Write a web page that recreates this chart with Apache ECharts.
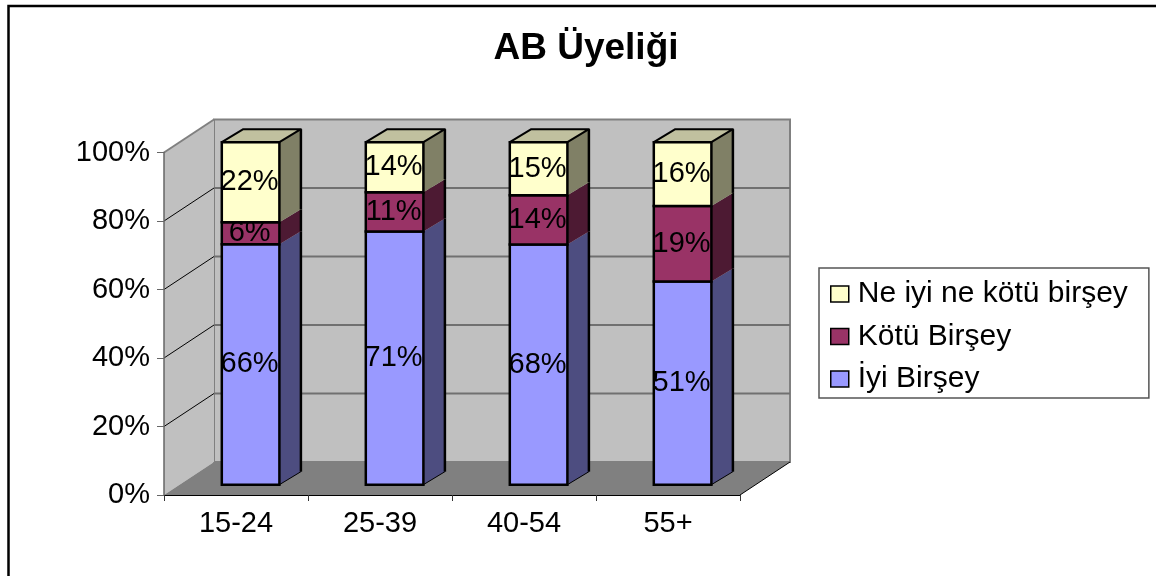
<!DOCTYPE html>
<html>
<head>
<meta charset="utf-8">
<script src="https://cdn.jsdelivr.net/npm/echarts@6/dist/echarts.min.js"></script>
<style>
html, body { margin: 0; background: #fff; }
#main { width: 1156px; height: 576px; }
</style>
</head>
<body>
<div id="main"></div>
<script>
var categories = ['15-24', '25-39', '40-54', '55+'];
var iyi = [66, 71, 68, 51];
var kotu = [6, 11, 14, 19];
var neIyi = [22, 14, 15, 16];
var yTicks = [0, 20, 40, 60, 80, 100];

var FONT = '"Liberation Sans", Arial, sans-serif';
// 3D look: wall depth, how far the bar stands off the front edge, bar depth
var WALL = [50, -33];
var INSET = [14.6, -10.3];
var DEPTH = [21.5, -13];

var totals = categories.map(function (c, i) {
  return iyi[i] + kotu[i] + neIyi[i];
});

// the chart is 100% stacked, labels show the raw value
function stackData(values, below) {
  return values.map(function (v, i) {
    var base = 0;
    below.forEach(function (b) { base += b[i]; });
    return [i, base / totals[i] * 100, (base + v) / totals[i] * 100, v];
  });
}

function off(p, d) {
  return [p[0] + d[0], p[1] + d[1]];
}

// left and right end of the category axis at value v
function axisEnds(api, v) {
  var band = api.size([1, 0])[0];
  return [
    off(api.coord([0, v]), [-band / 2, 0]),
    off(api.coord([categories.length - 1, v]), [band / 2, 0])
  ];
}

function renderRoom(params, api) {
  var v = api.value(0);
  var ends = axisEnds(api, v);
  var p0 = ends[0];
  var p1 = ends[1];
  var back0 = off(p0, WALL);
  var back1 = off(p1, WALL);
  var children = [];
  if (v === 0) {
    var tops = axisEnds(api, 100);
    children.push({
      type: 'polygon',
      shape: { points: [off(tops[0], WALL), off(tops[1], WALL), back1, back0] },
      style: { fill: '#c0c0c0', stroke: '#808080', lineWidth: 2 }
    });
    children.push({
      type: 'polygon',
      shape: { points: [tops[0], off(tops[0], WALL), back0, p0] },
      style: { fill: '#c0c0c0' }
    });
    children.push({
      type: 'polygon',
      shape: { points: [p0, back0, back1, p1] },
      style: { fill: '#808080' }
    });
    children.push({
      type: 'line',
      shape: { x1: p1[0], y1: p1[1], x2: back1[0], y2: back1[1] },
      style: { stroke: '#000', lineWidth: 1 }
    });
  } else {
    if (v !== 100) {
      children.push({
        type: 'line',
        shape: { x1: back0[0], y1: back0[1], x2: back1[0], y2: back1[1] },
        style: { stroke: '#707070', lineWidth: 2 }
      });
    }
    children.push({
      type: 'line',
      shape: { x1: p0[0], y1: p0[1], x2: back0[0], y2: back0[1] },
      style: { stroke: v === 100 ? '#808080' : '#000', lineWidth: v === 100 ? 2 : 1 }
    });
  }
  return { type: 'group', children: children };
}

function makeBar(front, side, isTop) {
  return function (params, api) {
    var i = api.value(0);
    var w = api.size([1, 0])[0] / 2.5;
    var c0 = off(api.coord([i, api.value(1)]), INSET);
    var c1 = off(api.coord([i, api.value(2)]), INSET);
    var x0 = c0[0] - w / 2;
    var x1 = c0[0] + w / 2;
    var ends = [[x1, c0[1]], [x1, c1[1]]];
    var backEnds = [off(ends[0], DEPTH), off(ends[1], DEPTH)];
    var edge = { stroke: '#000', lineWidth: 2.5, lineJoin: 'round' };
    var children = [
      {
        type: 'polygon',
        shape: { points: [ends[0], ends[1], backEnds[1], backEnds[0]] },
        style: { fill: side }
      },
      {
        type: 'line',
        shape: { x1: backEnds[0][0], y1: backEnds[0][1], x2: backEnds[1][0], y2: backEnds[1][1] },
        style: edge
      }
    ];
    if (api.value(1) === 0) {
      children.push({
        type: 'line',
        shape: { x1: ends[0][0], y1: ends[0][1], x2: backEnds[0][0], y2: backEnds[0][1] },
        style: { stroke: '#000', lineWidth: 1 }
      });
    }
    if (isTop) {
      children.push({
        type: 'polygon',
        shape: { points: [[x0, c1[1]], off([x0, c1[1]], DEPTH), backEnds[1], ends[1]] },
        style: { fill: '#c0c09f', stroke: '#000', lineWidth: 2, lineJoin: 'round' }
      });
    }
    children.push({
      type: 'rect',
      shape: { x: x0, y: c1[1], width: w, height: c0[1] - c1[1] },
      style: { fill: front, stroke: '#000', lineWidth: 2.5 }
    });
    children.push({
      type: 'text',
      z2: 100,
      style: {
        x: c0[0] - 1,
        y: (c0[1] + c1[1]) / 2,
        text: api.value(3) + '%',
        align: 'center',
        verticalAlign: 'middle',
        fill: '#000',
        font: '29px ' + FONT
      }
    });
    return { type: 'group', children: children };
  };
}

function barSeries(name, values, below, front, side, isTop) {
  return {
    name: name,
    type: 'custom',
    coordinateSystem: 'cartesian2d',
    renderItem: makeBar(front, side, isTop),
    itemStyle: { color: front },
    encode: { x: 0, y: [1, 2] },
    data: stackData(values, below),
    silent: true,
    animation: false
  };
}

var myChart = echarts.init(document.getElementById('main'));
myChart.setOption({
  animation: false,
  backgroundColor: '#fff',
  title: {
    text: 'AB Üyeliği',
    left: 581,
    textAlign: 'center',
    top: 25,
    textStyle: { fontFamily: FONT, fontWeight: 'bold', fontSize: 37, color: '#000' }
  },
  legend: {
    orient: 'vertical',
    left: 819,
    top: 268,
    padding: [11, 21, 4, 11],
    itemGap: 12.5,
    itemWidth: 18,
    itemHeight: 16,
    icon: 'rect',
    selectedMode: false,
    borderColor: '#555',
    borderWidth: 1.5,
    backgroundColor: '#fff',
    data: ['Ne iyi ne kötü birşey', 'Kötü Birşey', 'İyi Birşey'],
    itemStyle: { borderColor: '#000', borderWidth: 1.5 },
    textStyle: { fontFamily: FONT, fontSize: 30, color: '#000', padding: [0, 0, 0, 4] }
  },
  grid: { left: 164, top: 152.5, width: 576, height: 342.5 },
  xAxis: {
    type: 'category',
    data: categories,
    z: 5,
    axisLine: { lineStyle: { color: '#000', width: 1 } },
    axisTick: { show: true, alignWithLabel: false, length: 6, lineStyle: { color: '#333' } },
    axisLabel: { fontFamily: FONT, fontSize: 29, color: '#000', margin: 14 }
  },
  yAxis: {
    type: 'value',
    min: 0,
    max: 100,
    interval: 20,
    z: 5,
    splitLine: { show: false },
    axisLine: { show: true, lineStyle: { color: '#666', width: 1.5 } },
    axisTick: { show: true, length: 7, lineStyle: { color: '#666' } },
    axisLabel: { fontFamily: FONT, fontSize: 29, color: '#000', margin: 14, formatter: '{value}%' }
  },
  // the frame is open on the right and at the bottom
  graphic: [{
    type: 'polyline',
    silent: true,
    z: 100,
    shape: { points: [[8.5, 576], [8.5, 6], [1156, 6]] },
    style: { fill: 'none', stroke: '#000', lineWidth: 2.5 }
  }],
  series: [
    {
      type: 'custom',
      coordinateSystem: 'cartesian2d',
      renderItem: renderRoom,
      encode: { y: 0 },
      data: yTicks.map(function (t) { return [t]; }),
      silent: true,
      animation: false
    },
    barSeries('İyi Birşey', iyi, [], '#9999ff', '#4d4d80', false),
    barSeries('Kötü Birşey', kotu, [iyi], '#993366', '#4d1a33', false),
    barSeries('Ne iyi ne kötü birşey', neIyi, [iyi, kotu], '#ffffcc', '#808066', true)
  ]
});
</script>
</body>
</html>
